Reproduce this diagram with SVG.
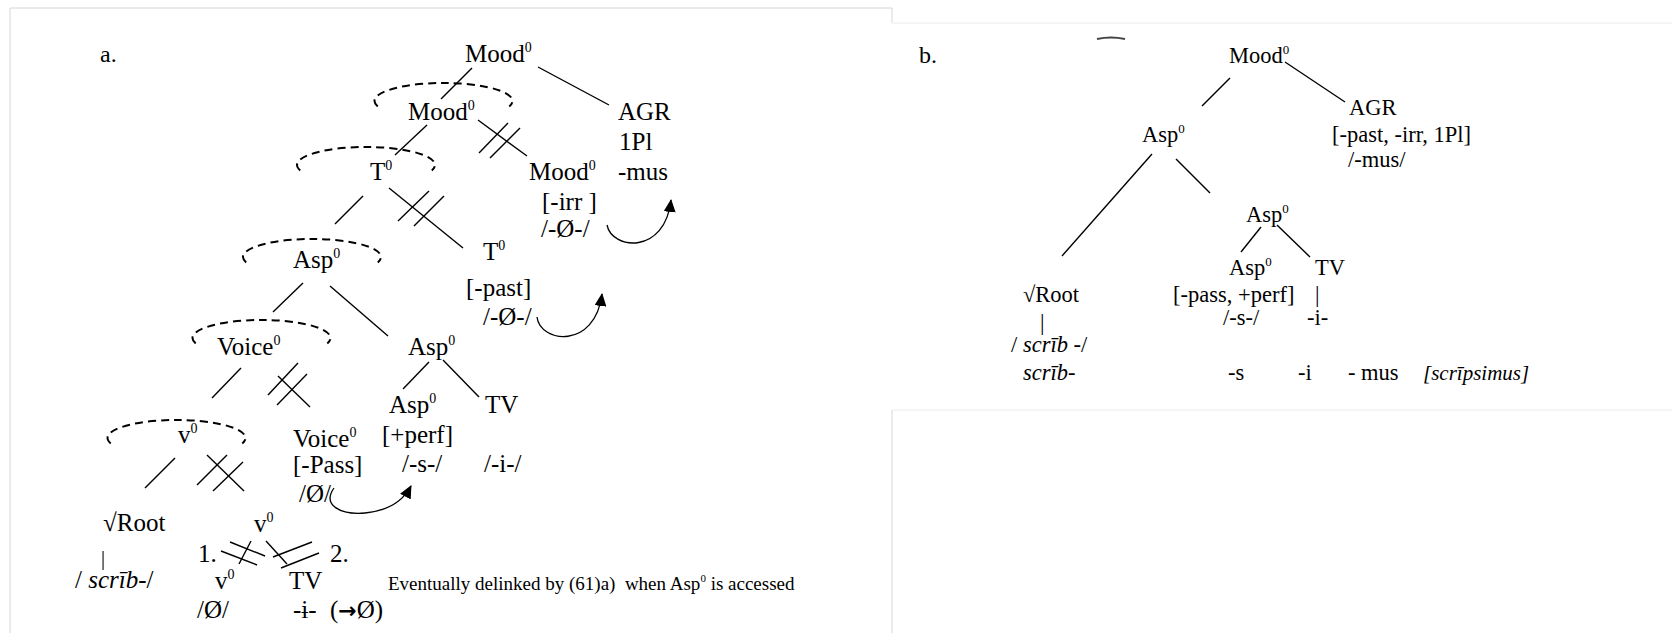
<svg xmlns="http://www.w3.org/2000/svg" width="1672" height="633" viewBox="0 0 1672 633">
  <style>
    .t { font-family: "Liberation Serif", "Times New Roman", serif; font-size: 25px; fill: #000; white-space: pre; }
    .b { font-size: 22.5px; }
    .s24 { font-size: 24px; }
    .s21 { font-size: 21px; }
    .s20 { font-size: 20px; }
    .s19 { font-size: 19px; }
    .sup { font-size: 14px; }
    .bs { font-size: 13px; }
    .it { font-style: italic; }
    .ln { stroke: #000; stroke-width: 1.4; fill: none; }
    .dash { stroke: #000; stroke-width: 2; fill: none; stroke-dasharray: 8 5; }
    .arrow { stroke: #000; stroke-width: 1.3; fill: none; marker-end: url(#ah); }
  </style>
  <defs>
    <marker id="ah" markerUnits="userSpaceOnUse" markerWidth="13" markerHeight="12" refX="12" refY="6" orient="auto">
      <path d="M0,0 L13,6 L0,12 z" fill="#000"/>
    </marker>
  </defs>

  <rect width="1672" height="633" fill="#fff"/>

  <!-- panel frames -->
  <g id="frames" fill="none">
    <path d="M10,633 V8 H892 V23 M892,410 V633" stroke="#d6d6d6" stroke-width="1"/>
    <path d="M892,23 H1672 M892,410 H1672" stroke="#ececec" stroke-width="1"/>
    <path d="M1097,39 Q1111,36 1125,39" stroke="#444" stroke-width="2"/>
  </g>

  <!-- ===== panel a ===== -->
  <text class="t s24" x="100" y="62">a.</text>

  <g id="a-mood-root"><text class="t" x="465" y="62">Mood<tspan class="sup" dy="-10">0</tspan></text></g>
  <g id="a-agr">
    <text class="t" x="618" y="120">AGR</text>
    <text class="t" x="619" y="150">1Pl</text>
    <text class="t" x="618" y="180">-mus</text>
  </g>
  <g id="a-mood-mid">
    <path class="dash" d="M377.7,106.4 A69,18 0 1 1 509.3,106.4"/>
    <text class="t" x="408" y="120">Mood<tspan class="sup" dy="-10">0</tspan></text>
  </g>
  <g id="a-mood-low">
    <text class="t" x="529" y="180">Mood<tspan class="sup" dy="-10">0</tspan></text>
    <text class="t" x="542" y="210">[-irr ]</text>
    <text class="t" x="541" y="237">/-Ø-/</text>
  </g>
  <g id="a-t-mid">
    <path class="dash" d="M300.2,170.4 A69,18 0 1 1 431.8,170.4"/>
    <text class="t" x="370" y="180">T<tspan class="sup" dy="-10">0</tspan></text>
  </g>
  <g id="a-t-low">
    <text class="t" x="483" y="260">T<tspan class="sup" dy="-10">0</tspan></text>
    <text class="t" x="466" y="296">[-past]</text>
    <text class="t" x="483" y="325">/-Ø-/</text>
  </g>
  <g id="a-asp-mid">
    <path class="dash" d="M246.2,262.4 A69,18 0 1 1 377.8,262.4"/>
    <text class="t" x="293" y="268">Asp<tspan class="sup" dy="-10">0</tspan></text>
  </g>
  <g id="a-voice-mid">
    <path class="dash" d="M195.7,343.4 A69,18 0 1 1 327.3,343.4"/>
    <text class="t" x="217" y="355">Voice<tspan class="sup" dy="-10">0</tspan></text>
  </g>
  <g id="a-asp-r">
    <text class="t" x="408" y="355">Asp<tspan class="sup" dy="-10">0</tspan></text>
  </g>
  <g id="a-asp-low">
    <text class="t" x="389" y="413">Asp<tspan class="sup" dy="-10">0</tspan></text>
    <text class="t" x="382" y="443">[+perf]</text>
    <text class="t" x="402" y="472">/-s-/</text>
  </g>
  <g id="a-tv">
    <text class="t" x="485" y="413">TV</text>
    <text class="t" x="484" y="472">/-i-/</text>
  </g>
  <g id="a-v-mid">
    <path class="dash" d="M110.7,443.4 A69,18 0 1 1 242.3,443.4"/>
    <text class="t" x="178" y="443">v<tspan class="sup" dy="-10">0</tspan></text>
  </g>
  <g id="a-voice-low">
    <text class="t" x="293" y="447">Voice<tspan class="sup" dy="-10">0</tspan></text>
    <text class="t" x="293" y="473">[-Pass]</text>
    <text class="t" x="299" y="502">/Ø/</text>
  </g>
  <g id="a-root">
    <text class="t" x="103" y="531">√Root</text>
    <text class="t s20" x="101" y="565">|</text>
    <text class="t" x="75" y="588">/ <tspan class="it">scrīb</tspan>-/</text>
  </g>
  <g id="a-v-low">
    <text class="t" x="254" y="532">v<tspan class="sup" dy="-10">0</tspan></text>
    <text class="t" x="198" y="562">1.</text>
    <text class="t" x="330" y="562">2.</text>
  </g>
  <g id="a-v-leaf">
    <text class="t" x="215" y="589">v<tspan class="sup" dy="-10">0</tspan></text>
    <text class="t" x="197" y="618">/Ø/</text>
  </g>
  <g id="a-tv-leaf">
    <text class="t" x="289" y="589">TV</text>
    <text class="t" x="293" y="618">-ɨ-</text>
    <text class="t" x="330" y="618">(<tspan font-family="DejaVu Sans, sans-serif" font-weight="bold" font-size="22">→</tspan>Ø)</text>
  </g>
  <g id="a-note">
    <text class="t s19" x="388" y="590">Eventually delinked by (61)a)  when Asp<tspan font-size="11" dy="-8">0</tspan><tspan dy="8"> is accessed</tspan></text>
  </g>

  <!-- ===== panel b ===== -->
  <text class="t s24" x="919" y="63">b.</text>
  <g id="b-mood"><text class="t b" x="1229" y="63">Mood<tspan class="bs" dy="-9">0</tspan></text></g>
  <g id="b-agr">
    <text class="t b" x="1349" y="115">AGR</text>
    <text class="t b" x="1332" y="142">[-past, -irr, 1Pl]</text>
    <text class="t b" x="1348" y="167">/-mus/</text>
  </g>
  <g id="b-asp-top"><text class="t b" x="1142" y="142">Asp<tspan class="bs" dy="-9">0</tspan></text></g>
  <g id="b-asp-mid"><text class="t b" x="1246" y="222">Asp<tspan class="bs" dy="-9">0</tspan></text></g>
  <g id="b-asp-low">
    <text class="t b" x="1229" y="275">Asp<tspan class="bs" dy="-9">0</tspan></text>
    <text class="t b" x="1173" y="302">[-pass, +perf]</text>
    <text class="t b" x="1223" y="325">/-s-/</text>
  </g>
  <g id="b-tv">
    <text class="t b" x="1315" y="275">TV</text>
    <text class="t b" x="1315" y="302">|</text>
    <text class="t b" x="1307" y="325">-i-</text>
  </g>
  <g id="b-root">
    <text class="t b" x="1023" y="302">√Root</text>
    <text class="t b" x="1040" y="330">|</text>
    <text class="t b" x="1011" y="352">/ <tspan class="it">scrīb</tspan> -/</text>
  </g>
  <g id="b-surface">
    <text class="t b it" x="1023" y="380">scrīb-</text>
    <text class="t b" x="1228" y="380">-s</text>
    <text class="t b" x="1298" y="380">-i</text>
    <text class="t b" x="1348" y="380">- mus</text>
    <text class="t s21 it" x="1423" y="380">[scrīpsimus]</text>
  </g>

  <!-- ===== branches, delinking bars and movement arrows ===== -->
  <g id="connectors">
    <!-- panel a -->
    <line class="ln" x1="472" y1="68" x2="441" y2="99"/>
    <line class="ln" x1="538" y1="67" x2="609" y2="105"/>
    <line class="ln" x1="427" y1="125" x2="395" y2="155"/>
    <line class="ln" x1="478" y1="120" x2="527" y2="156"/>
    <line class="ln" x1="479" y1="153" x2="508" y2="123"/>
    <line class="ln" x1="490" y1="158" x2="520" y2="128"/>
    <line class="ln" x1="363" y1="196" x2="335" y2="224"/>
    <line class="ln" x1="389" y1="188" x2="463" y2="248"/>
    <line class="ln" x1="398" y1="221" x2="429" y2="191"/>
    <line class="ln" x1="414" y1="226" x2="444" y2="196"/>
    <line class="ln" x1="303" y1="283" x2="273" y2="312"/>
    <line class="ln" x1="330" y1="286" x2="388" y2="336"/>
    <line class="ln" x1="241" y1="368" x2="212" y2="398"/>
    <line class="ln" x1="278" y1="376" x2="310" y2="407"/>
    <line class="ln" x1="268" y1="395" x2="298" y2="363"/>
    <line class="ln" x1="277" y1="405" x2="307" y2="374"/>
    <line class="ln" x1="429" y1="362" x2="403" y2="389"/>
    <line class="ln" x1="443" y1="360" x2="479" y2="397"/>
    <line class="ln" x1="175" y1="458" x2="145" y2="488"/>
    <line class="ln" x1="207" y1="455" x2="244" y2="491"/>
    <line class="ln" x1="197" y1="485" x2="227" y2="455"/>
    <line class="ln" x1="213" y1="491" x2="243" y2="462"/>
    <line class="ln" x1="251" y1="541" x2="239" y2="564"/>
    <line class="ln" x1="230" y1="542" x2="265" y2="556"/>
    <line class="ln" x1="221" y1="551" x2="257" y2="565"/>
    <line class="ln" x1="266" y1="541" x2="287" y2="564"/>
    <line class="ln" x1="273" y1="557" x2="312" y2="542"/>
    <line class="ln" x1="281" y1="568" x2="319" y2="553"/>
    <path class="arrow" d="M607,225 C612,250 665,255 671,200"/>
    <path class="arrow" d="M537,317 C540,343 595,350 602,294"/>
    <path class="arrow" d="M334,488 C322,505 340,515 365,513 C385,511 402,503 411,486"/>
    <!-- panel b -->
    <line class="ln" x1="1230" y1="78" x2="1202" y2="106"/>
    <line class="ln" x1="1285" y1="62" x2="1345" y2="102"/>
    <line class="ln" x1="1152" y1="154" x2="1062" y2="256"/>
    <line class="ln" x1="1176" y1="159" x2="1210" y2="193"/>
    <line class="ln" x1="1261" y1="227" x2="1241" y2="252"/>
    <line class="ln" x1="1277" y1="225" x2="1310" y2="257"/>
  </g>
</svg>
